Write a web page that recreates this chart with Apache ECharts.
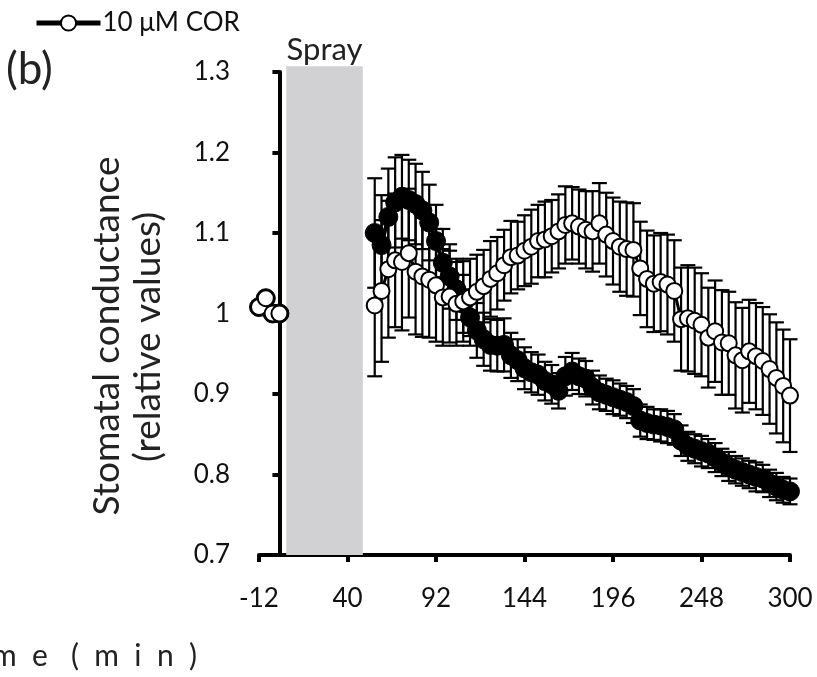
<!DOCTYPE html>
<html>
<head>
<meta charset="utf-8">
<script src="https://cdn.jsdelivr.net/npm/echarts@6/dist/echarts.min.js"></script>
<style>html,body{margin:0;padding:0;background:#fff}#chart{width:817px;height:677px}</style>
</head>
<body>
<div id="chart"></div>
<script>
// ---- data ----
const xTickLabels = [-12, 40, 92, 144, 196, 248, 300];
const sprayStart = 4, sprayEnd = 49, sprayTop = 1.307, sprayBottom = 0.7;
const timesPre = [-12, -8, -4, 0];
const openPre = [1.008, 1.019, 1.0, 1.0];
const filledPre = [1.008, 1.019, 1.0, 1.0];
const timesPost = [56,60,64,68,72,76,80,84,88,92,
  96,100,104,108,112,116,120,124,128,132,
  136,140,144,148,152,156,160,164,168,172,
  176,180,184,188,192,196,200,204,208,212,
  216,220,224,228,232,236,240,244,248,252,
  256,260,264,268,272,276,280,284,288,292,
  296,300];
const filledPost = [1.100,1.085,1.120,1.138,1.145,1.141,1.136,1.128,1.113,1.090,
  1.063,1.046,1.030,1.012,0.995,0.979,0.968,0.961,0.960,0.961,
  0.948,0.942,0.932,0.927,0.924,0.916,0.912,0.904,0.922,0.928,
  0.922,0.919,0.908,0.902,0.899,0.896,0.893,0.890,0.885,0.867,
  0.864,0.862,0.861,0.859,0.856,0.842,0.835,0.832,0.829,0.826,
  0.821,0.815,0.810,0.806,0.803,0.800,0.797,0.795,0.789,0.785,
  0.781,0.779];
const filledErr = [0.068,0.062,0.060,0.056,0.052,0.050,0.050,0.048,0.047,0.045,
  0.042,0.040,0.038,0.036,0.035,0.034,0.033,0.032,0.032,0.033,
  0.028,0.026,0.026,0.025,0.025,0.024,0.024,0.022,0.024,0.023,
  0.022,0.022,0.021,0.021,0.020,0.021,0.020,0.020,0.021,0.020,
  0.020,0.019,0.020,0.020,0.019,0.019,0.018,0.018,0.019,0.018,
  0.018,0.017,0.018,0.017,0.017,0.017,0.018,0.017,0.017,0.017,
  0.016,0.016];
const openPost = [1.010,1.028,1.055,1.066,1.064,1.075,1.052,1.046,1.042,1.035,
  1.020,1.021,1.012,1.015,1.020,1.027,1.034,1.043,1.050,1.060,
  1.070,1.072,1.078,1.083,1.090,1.092,1.096,1.102,1.110,1.112,
  1.108,1.104,1.102,1.112,1.098,1.090,1.083,1.080,1.079,1.056,
  1.043,1.037,1.039,1.036,1.028,0.993,0.994,0.991,0.986,0.970,
  0.978,0.964,0.963,0.948,0.942,0.953,0.947,0.941,0.931,0.920,
  0.910,0.898];
const openErr = [0.088,0.088,0.085,0.083,0.085,0.080,0.078,0.075,0.072,0.070,
  0.060,0.057,0.052,0.050,0.048,0.046,0.045,0.047,0.045,0.044,
  0.045,0.042,0.044,0.046,0.045,0.047,0.045,0.046,0.048,0.045,
  0.046,0.048,0.050,0.050,0.052,0.054,0.056,0.058,0.058,0.058,
  0.060,0.060,0.061,0.062,0.063,0.064,0.066,0.066,0.064,0.062,
  0.063,0.065,0.064,0.066,0.065,0.064,0.066,0.067,0.068,0.069,
  0.070,0.070];

// ---- build ----
const FONT = 'Lato';
const pairs = (xs, ys) => xs.map((x, i) => [x, ys[i]]);
const errData = (xs, ys, es) => xs.map((x, i) => [x, ys[i] - es[i], ys[i] + es[i]]);

function errRender(params, api) {
  const x = api.value(0), lo = api.value(1), hi = api.value(2);
  const pHi = api.coord([x, hi]), pLo = api.coord([x, lo]);
  const hw = 7.5;
  const st = { stroke: '#000', lineWidth: 2.2 };
  return { type: 'group', children: [
    { type: 'line', shape: { x1: pHi[0], y1: pHi[1], x2: pLo[0], y2: pLo[1] }, style: st },
    { type: 'line', shape: { x1: pHi[0] - hw, y1: pHi[1], x2: pHi[0] + hw, y2: pHi[1] }, style: st },
    { type: 'line', shape: { x1: pLo[0] - hw, y1: pLo[1], x2: pLo[0] + hw, y2: pLo[1] }, style: st }
  ]};
}

function sprayRender(params, api) {
  const p1 = api.coord([api.value(0), sprayTop]);
  const p2 = api.coord([api.value(1), sprayBottom]);
  return { type: 'group', children: [
    { type: 'rect', shape: { x: p1[0], y: p1[1], width: p2[0] - p1[0], height: p2[1] - p1[1] },
      style: { fill: '#d1d1d3' } },
    { type: 'text', x: (p1[0] + p2[0]) / 2, y: p1[1] - 1,
      style: { text: 'Spray', font: '31px ' + FONT, fill: '#222', align: 'center', verticalAlign: 'bottom' } }
  ]};
}

const openStyle = {
  type: 'line', symbol: 'circle', symbolSize: 16,
  itemStyle: { color: '#fff', borderColor: '#000', borderWidth: 2 },
  lineStyle: { color: '#000', width: 3 }, z: 4
};
const filledStyle = {
  type: 'line', symbol: 'circle', symbolSize: 19,
  itemStyle: { color: '#000', borderColor: '#000', borderWidth: 1 },
  lineStyle: { color: '#000', width: 4 }, z: 3
};

const chart = echarts.init(document.getElementById('chart'), null, { renderer: 'canvas' });
chart.setOption({
  animation: false,
  backgroundColor: '#fff',
  grid: { left: 259, top: 72, width: 531, height: 483, containLabel: false },
  legend: {
    data: ['10 μM COR'], left: 29, top: 5, itemWidth: 64, itemHeight: 19, itemGap: 5,
    lineStyle: { width: 5, color: '#000' },
    textStyle: { fontFamily: FONT, fontSize: 26, color: '#111', padding: [0, 0, 0, -3] }
  },
  xAxis: {
    type: 'value', min: -12, max: 300,
    axisLine: { lineStyle: { color: '#000', width: 4 } },
    axisTick: { customValues: xTickLabels, length: 7, lineStyle: { color: '#000', width: 4 } },
    axisLabel: { customValues: xTickLabels, margin: 31, fontFamily: FONT, fontSize: 26, color: '#111' },
    splitLine: { show: false }
  },
  yAxis: {
    type: 'value', min: 0.7, max: 1.3, interval: 0.1,
    axisLine: { show: true, lineStyle: { color: '#000', width: 4 } },
    axisTick: { show: true, length: 7, lineStyle: { color: '#000', width: 4 } },
    axisLabel: { margin: 29, fontFamily: FONT, fontSize: 26, color: '#111',
      formatter: v => String(Math.round(v * 10) / 10) },
    splitLine: { show: false }
  },
  graphic: [
    { type: 'text', left: 6, top: 48, style: { text: '(b)', font: '44px ' + FONT, fill: '#222' } },
    { type: 'text', x: 107, y: 336, rotation: Math.PI / 2,
      style: { text: 'Stomatal conductance', font: '37px ' + FONT, fill: '#222', align: 'center', verticalAlign: 'middle' } },
    { type: 'text', x: 148, y: 337, rotation: Math.PI / 2,
      style: { text: '(relative values)', font: '37px ' + FONT, fill: '#222', align: 'center', verticalAlign: 'middle' } },
    { type: 'text', x: 197, y: 656,
      style: { text: 'T  i  m  e   (  m  i  n  )', font: '30px ' + FONT, fill: '#222', align: 'right', verticalAlign: 'middle' } }
  ],
  series: [
    { type: 'custom', name: 'spray', renderItem: sprayRender, data: [[sprayStart, sprayEnd]],
      encode: { x: [0, 1] }, z: 1, silent: true },
    { type: 'custom', name: 'errFilled', renderItem: errRender, data: errData(timesPost, filledPost, filledErr),
      encode: { x: 0, y: [1, 2] }, z: 2 },
    { type: 'custom', name: 'errOpen', renderItem: errRender, data: errData(timesPost, openPost, openErr),
      encode: { x: 0, y: [1, 2] }, z: 2 },
    Object.assign({ name: 'control pre', data: pairs(timesPre, filledPre) }, filledStyle),
    Object.assign({ name: 'control', data: pairs(timesPost, filledPost) }, filledStyle),
    Object.assign({ name: '10 μM COR pre', data: pairs(timesPre, openPre) }, openStyle),
    Object.assign({ name: '10 μM COR', data: pairs(timesPost, openPost) }, openStyle)
  ]
});
</script>
</body>
</html>
